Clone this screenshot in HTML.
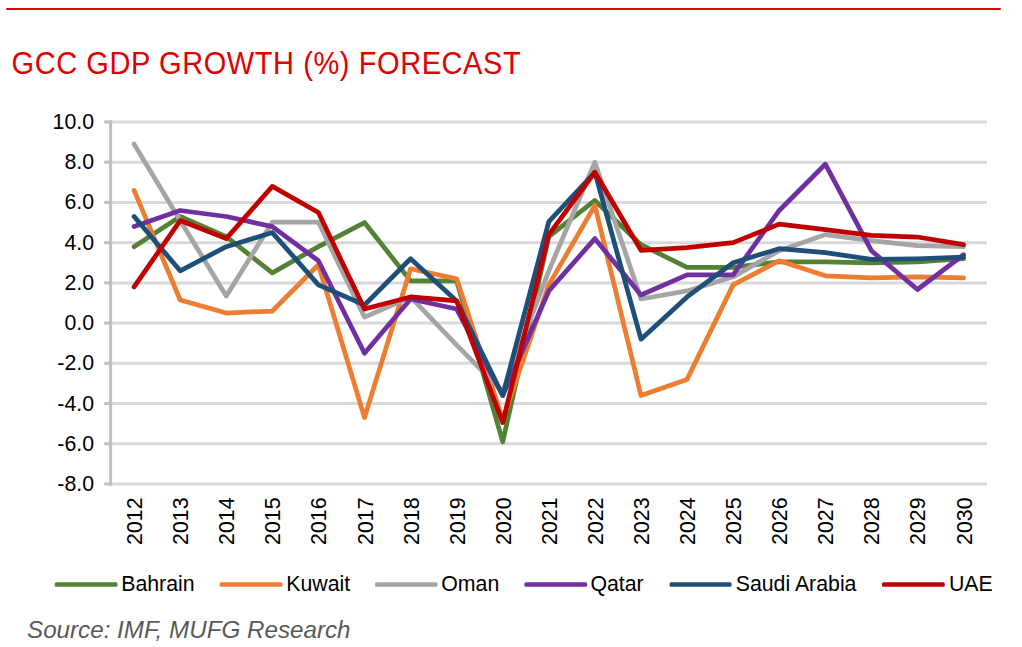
<!DOCTYPE html>
<html><head><meta charset="utf-8"><style>
html,body{margin:0;padding:0;background:#fff;width:1022px;height:647px;overflow:hidden}
body{position:relative;font-family:"Liberation Sans",sans-serif}
.rule{position:absolute;left:6px;top:8px;width:995px;height:2px;background:#E00000;border-radius:1px}
.title{position:absolute;left:11.5px;top:44.5px;font-size:29px;letter-spacing:0.58px;line-height:36px;color:#E00000;white-space:nowrap;transform:scaleY(1.065);transform-origin:0 8.2px}
.src{position:absolute;left:27px;top:615.5px;font-size:24.2px;line-height:28px;color:#595959;font-style:italic;white-space:nowrap}
svg{position:absolute;left:0;top:0}
.yl,.xl,.lg{font-family:"Liberation Sans",sans-serif;font-size:21.3px;fill:#000}
</style></head><body>
<div class="rule"></div>
<div class="title">GCC GDP GROWTH (%) FORECAST</div>
<svg width="1022" height="647" viewBox="0 0 1022 647">
<line x1="110.5" y1="122.00" x2="987" y2="122.00" stroke="#D9D9D9" stroke-width="3"/>
<line x1="110.5" y1="162.22" x2="987" y2="162.22" stroke="#D9D9D9" stroke-width="3"/>
<line x1="110.5" y1="202.44" x2="987" y2="202.44" stroke="#D9D9D9" stroke-width="3"/>
<line x1="110.5" y1="242.66" x2="987" y2="242.66" stroke="#D9D9D9" stroke-width="3"/>
<line x1="110.5" y1="282.88" x2="987" y2="282.88" stroke="#D9D9D9" stroke-width="3"/>
<line x1="110.5" y1="323.10" x2="987" y2="323.10" stroke="#D9D9D9" stroke-width="3"/>
<line x1="110.5" y1="363.32" x2="987" y2="363.32" stroke="#D9D9D9" stroke-width="3"/>
<line x1="110.5" y1="403.54" x2="987" y2="403.54" stroke="#D9D9D9" stroke-width="3"/>
<line x1="110.5" y1="443.76" x2="987" y2="443.76" stroke="#D9D9D9" stroke-width="3"/>
<line x1="110.5" y1="483.98" x2="987" y2="483.98" stroke="#D9D9D9" stroke-width="3"/>
<line x1="110.6" y1="120.50" x2="110.6" y2="485.48" stroke="#BFBFBF" stroke-width="3"/>
<line x1="104.2" y1="122.00" x2="112.1" y2="122.00" stroke="#BFBFBF" stroke-width="3"/>
<line x1="104.2" y1="162.22" x2="112.1" y2="162.22" stroke="#BFBFBF" stroke-width="3"/>
<line x1="104.2" y1="202.44" x2="112.1" y2="202.44" stroke="#BFBFBF" stroke-width="3"/>
<line x1="104.2" y1="242.66" x2="112.1" y2="242.66" stroke="#BFBFBF" stroke-width="3"/>
<line x1="104.2" y1="282.88" x2="112.1" y2="282.88" stroke="#BFBFBF" stroke-width="3"/>
<line x1="104.2" y1="323.10" x2="112.1" y2="323.10" stroke="#BFBFBF" stroke-width="3"/>
<line x1="104.2" y1="363.32" x2="112.1" y2="363.32" stroke="#BFBFBF" stroke-width="3"/>
<line x1="104.2" y1="403.54" x2="112.1" y2="403.54" stroke="#BFBFBF" stroke-width="3"/>
<line x1="104.2" y1="443.76" x2="112.1" y2="443.76" stroke="#BFBFBF" stroke-width="3"/>
<line x1="104.2" y1="483.98" x2="112.1" y2="483.98" stroke="#BFBFBF" stroke-width="3"/>
<text x="94" y="129.00" text-anchor="end" class="yl">10.0</text>
<text x="94" y="169.22" text-anchor="end" class="yl">8.0</text>
<text x="94" y="209.44" text-anchor="end" class="yl">6.0</text>
<text x="94" y="249.66" text-anchor="end" class="yl">4.0</text>
<text x="94" y="289.88" text-anchor="end" class="yl">2.0</text>
<text x="94" y="330.10" text-anchor="end" class="yl">0.0</text>
<text x="94" y="370.32" text-anchor="end" class="yl">-2.0</text>
<text x="94" y="410.54" text-anchor="end" class="yl">-4.0</text>
<text x="94" y="450.76" text-anchor="end" class="yl">-6.0</text>
<text x="94" y="490.98" text-anchor="end" class="yl">-8.0</text>
<text transform="translate(142.10,497.5) rotate(-90)" text-anchor="end" class="xl">2012</text>
<text transform="translate(188.18,497.5) rotate(-90)" text-anchor="end" class="xl">2013</text>
<text transform="translate(234.26,497.5) rotate(-90)" text-anchor="end" class="xl">2014</text>
<text transform="translate(280.34,497.5) rotate(-90)" text-anchor="end" class="xl">2015</text>
<text transform="translate(326.42,497.5) rotate(-90)" text-anchor="end" class="xl">2016</text>
<text transform="translate(372.50,497.5) rotate(-90)" text-anchor="end" class="xl">2017</text>
<text transform="translate(418.58,497.5) rotate(-90)" text-anchor="end" class="xl">2018</text>
<text transform="translate(464.66,497.5) rotate(-90)" text-anchor="end" class="xl">2019</text>
<text transform="translate(510.74,497.5) rotate(-90)" text-anchor="end" class="xl">2020</text>
<text transform="translate(556.82,497.5) rotate(-90)" text-anchor="end" class="xl">2021</text>
<text transform="translate(602.90,497.5) rotate(-90)" text-anchor="end" class="xl">2022</text>
<text transform="translate(648.98,497.5) rotate(-90)" text-anchor="end" class="xl">2023</text>
<text transform="translate(695.06,497.5) rotate(-90)" text-anchor="end" class="xl">2024</text>
<text transform="translate(741.14,497.5) rotate(-90)" text-anchor="end" class="xl">2025</text>
<text transform="translate(787.22,497.5) rotate(-90)" text-anchor="end" class="xl">2026</text>
<text transform="translate(833.30,497.5) rotate(-90)" text-anchor="end" class="xl">2027</text>
<text transform="translate(879.38,497.5) rotate(-90)" text-anchor="end" class="xl">2028</text>
<text transform="translate(925.46,497.5) rotate(-90)" text-anchor="end" class="xl">2029</text>
<text transform="translate(971.54,497.5) rotate(-90)" text-anchor="end" class="xl">2030</text>
<polyline points="134.10,246.68 180.18,216.52 226.26,236.63 272.34,272.82 318.42,246.68 364.50,222.55 410.58,280.87 456.66,280.87 502.74,441.75 548.82,236.63 594.90,200.43 640.98,244.67 687.06,267.40 733.14,267.40 779.22,261.76 825.30,261.76 871.38,262.77 917.46,261.76 963.54,258.75" fill="none" stroke="#548235" stroke-width="4.75" stroke-linejoin="round" stroke-linecap="round"/>
<polyline points="134.10,190.37 180.18,299.97 226.26,313.04 272.34,311.03 318.42,264.78 364.50,417.62 410.58,268.80 456.66,278.86 502.74,419.63 548.82,284.89 594.90,205.46 640.98,395.50 687.06,379.41 733.14,284.89 779.22,260.76 825.30,275.84 871.38,277.85 917.46,276.85 963.54,277.85" fill="none" stroke="#ED7D31" stroke-width="4.75" stroke-linejoin="round" stroke-linecap="round"/>
<polyline points="134.10,144.12 180.18,220.54 226.26,295.95 272.34,222.15 318.42,222.15 364.50,317.07 410.58,296.96 456.66,345.22 502.74,391.47 548.82,270.81 594.90,162.22 640.98,298.97 687.06,290.92 733.14,276.85 779.22,250.70 825.30,234.62 871.38,240.65 917.46,245.68 963.54,246.68" fill="none" stroke="#A5A5A5" stroke-width="4.75" stroke-linejoin="round" stroke-linecap="round"/>
<polyline points="134.10,226.57 180.18,210.48 226.26,216.52 272.34,226.57 318.42,260.76 364.50,353.26 410.58,298.97 456.66,309.02 502.74,395.50 548.82,290.92 594.90,238.64 640.98,294.95 687.06,274.84 733.14,274.84 779.22,210.48 825.30,164.23 871.38,250.70 917.46,289.52 963.54,254.73" fill="none" stroke="#7030A0" stroke-width="4.75" stroke-linejoin="round" stroke-linecap="round"/>
<polyline points="134.10,216.52 180.18,270.81 226.26,246.68 272.34,232.60 318.42,284.89 364.50,305.00 410.58,258.75 456.66,300.98 502.74,395.50 548.82,221.54 594.90,172.28 640.98,339.19 687.06,296.96 733.14,262.77 779.22,248.69 825.30,252.72 871.38,259.35 917.46,258.75 963.54,257.14" fill="none" stroke="#1F4E79" stroke-width="4.75" stroke-linejoin="round" stroke-linecap="round"/>
<polyline points="134.10,286.90 180.18,220.54 226.26,238.64 272.34,186.35 318.42,212.50 364.50,309.02 410.58,296.96 456.66,300.98 502.74,422.64 548.82,234.62 594.90,172.28 640.98,250.30 687.06,247.69 733.14,242.66 779.22,224.16 825.30,229.59 871.38,235.42 917.46,237.03 963.54,244.67" fill="none" stroke="#C00000" stroke-width="4.75" stroke-linejoin="round" stroke-linecap="round"/>
<rect x="54.7" y="582.2" width="62.80" height="4.6" rx="1.6" fill="#548235"/>
<text x="121.20" y="591.2" class="lg">Bahrain</text>
<rect x="219.7" y="582.2" width="62.80" height="4.6" rx="1.6" fill="#ED7D31"/>
<text x="286.30" y="591.2" class="lg">Kuwait</text>
<rect x="375" y="582.2" width="62.50" height="4.6" rx="1.6" fill="#A5A5A5"/>
<text x="441.30" y="591.2" class="lg">Oman</text>
<rect x="524.4" y="582.2" width="62.80" height="4.6" rx="1.6" fill="#7030A0"/>
<text x="590.40" y="591.2" class="lg">Qatar</text>
<rect x="669.6" y="582.2" width="62.00" height="4.6" rx="1.6" fill="#1F4E79"/>
<text x="735.70" y="591.2" class="lg">Saudi Arabia</text>
<rect x="882" y="582.2" width="62.80" height="4.6" rx="1.6" fill="#C00000"/>
<text x="948.90" y="591.2" class="lg">UAE</text>
</svg>
<div class="src">Source: IMF, MUFG Research</div>
</body></html>
